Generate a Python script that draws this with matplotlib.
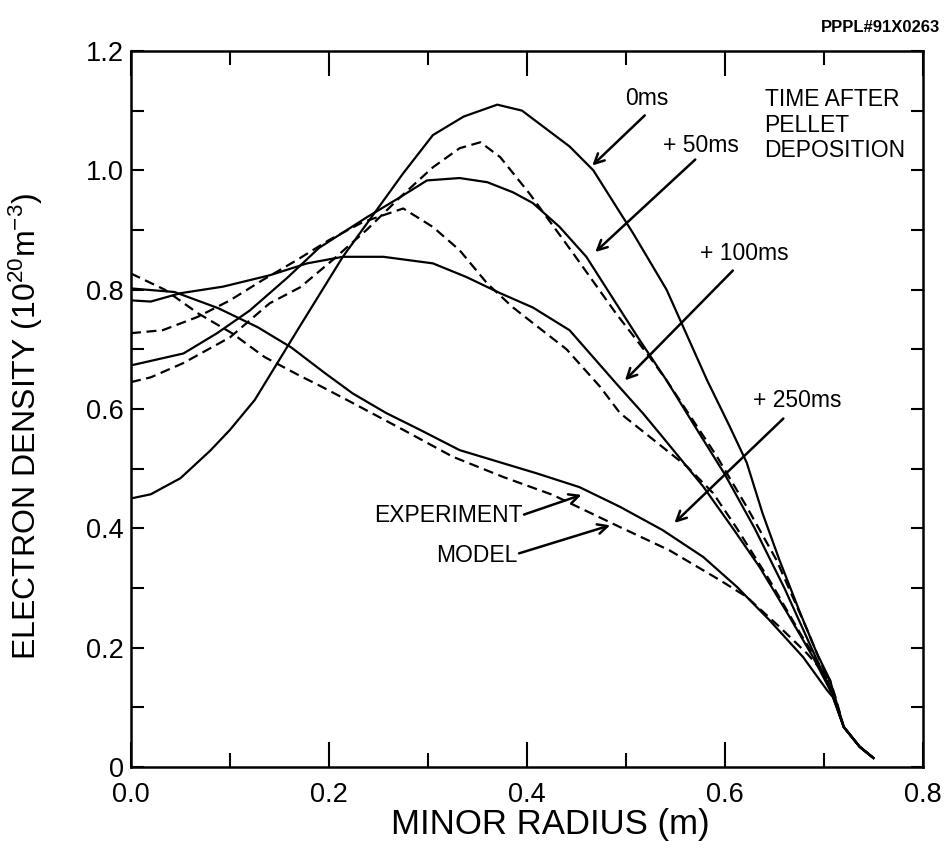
import matplotlib
matplotlib.use("Agg")
import matplotlib.pyplot as plt
from matplotlib.ticker import MultipleLocator, FixedLocator

plt.rcParams["font.family"] = ["Liberation Sans", "DejaVu Sans"]
plt.rcParams["mathtext.fontset"] = "custom"
plt.rcParams["mathtext.rm"] = "Liberation Sans"
plt.rcParams["mathtext.it"] = "Liberation Sans:italic"

# experiment (solid) and model (dashed) density profiles
exp_0_x = [0.0, 0.02, 0.05, 0.08, 0.10, 0.125, 0.17, 0.214, 0.248, 0.275, 0.305, 0.336, 0.37,
           0.395, 0.443, 0.467, 0.507, 0.541, 0.582, 0.605, 0.622, 0.638, 0.655, 0.676, 0.693,
           0.706, 0.72, 0.736, 0.75]
exp_0_y = [0.45, 0.457, 0.484, 0.53, 0.565, 0.615, 0.737, 0.855, 0.933, 0.995, 1.059, 1.09, 1.11,
           1.10, 1.04, 1.00, 0.895, 0.80, 0.648, 0.57, 0.51, 0.425, 0.347, 0.258, 0.19,
           0.146, 0.067, 0.034, 0.015]

exp_50_x = [0.0, 0.053, 0.087, 0.12, 0.158, 0.19, 0.238, 0.272, 0.299, 0.332, 0.36, 0.386, 0.406,
            0.433, 0.46, 0.49, 0.514, 0.541, 0.57, 0.60, 0.63, 0.66, 0.69, 0.709, 0.72, 0.736, 0.75]
exp_50_y = [0.673, 0.693, 0.727, 0.765, 0.82, 0.87, 0.921, 0.955, 0.983, 0.987, 0.98, 0.963, 0.945,
            0.905, 0.855, 0.777, 0.715, 0.648, 0.57, 0.49, 0.40, 0.30, 0.19, 0.12, 0.067, 0.034, 0.015]

model_50_x = [0.0, 0.02, 0.053, 0.10, 0.14, 0.171, 0.204, 0.238, 0.272, 0.305, 0.332, 0.353, 0.373,
              0.403, 0.447, 0.49, 0.524, 0.541, 0.592, 0.622, 0.652, 0.683, 0.703, 0.709, 0.72,
              0.736, 0.75]
model_50_y = [0.645, 0.653, 0.677, 0.72, 0.777, 0.804, 0.85, 0.90, 0.955, 1.005, 1.037, 1.047, 1.022,
              0.96, 0.86, 0.76, 0.687, 0.648, 0.52, 0.436, 0.347, 0.23, 0.15, 0.12, 0.067,
              0.034, 0.015]

exp_100_x = [0.0, 0.02, 0.05, 0.093, 0.14, 0.178, 0.214, 0.255, 0.305, 0.339, 0.373, 0.406, 0.443,
             0.49, 0.517, 0.537, 0.578, 0.608, 0.635, 0.663, 0.689, 0.709, 0.72, 0.736, 0.75]
exp_100_y = [0.782, 0.78, 0.794, 0.805, 0.824, 0.844, 0.855, 0.855, 0.844, 0.821, 0.794, 0.77, 0.732,
             0.643, 0.593, 0.553, 0.47, 0.40, 0.335, 0.258, 0.184, 0.12, 0.067, 0.034, 0.015]

model_100_x = [0.0, 0.032, 0.067, 0.10, 0.133, 0.168, 0.2, 0.234, 0.275, 0.305, 0.332, 0.36, 0.386,
               0.406, 0.44, 0.474, 0.494, 0.528, 0.562, 0.588, 0.612, 0.645, 0.676, 0.699, 0.709,
               0.72, 0.736, 0.75]
model_100_y = [0.727, 0.732, 0.754, 0.782, 0.816, 0.85, 0.883, 0.913, 0.936, 0.905, 0.866, 0.81, 0.77,
               0.744, 0.70, 0.637, 0.593, 0.548, 0.503, 0.459, 0.40, 0.313, 0.224, 0.162, 0.12,
               0.067, 0.034, 0.015]

exp_250_x = [0.0, 0.044, 0.088, 0.128, 0.162, 0.196, 0.224, 0.258, 0.292, 0.332, 0.376, 0.41, 0.453,
             0.494, 0.537, 0.578, 0.612, 0.645, 0.679, 0.703, 0.709, 0.72, 0.736, 0.75]
exp_250_y = [0.802, 0.796, 0.769, 0.737, 0.703, 0.66, 0.626, 0.593, 0.565, 0.531, 0.509, 0.492, 0.469,
             0.436, 0.397, 0.352, 0.302, 0.246, 0.184, 0.129, 0.117, 0.067, 0.034, 0.015]

model_250_x = [0.0, 0.034, 0.068, 0.102, 0.135, 0.169, 0.193, 0.224, 0.275, 0.325, 0.376, 0.426,
               0.494, 0.544, 0.595, 0.622, 0.655, 0.683, 0.706, 0.712, 0.72, 0.736, 0.75]
model_250_y = [0.827, 0.80, 0.76, 0.727, 0.687, 0.657, 0.637, 0.61, 0.565, 0.52, 0.486, 0.456,
               0.402, 0.363, 0.313, 0.285, 0.235, 0.19, 0.146, 0.115, 0.067, 0.034, 0.015]

x_ticks = [0.0, 0.2, 0.4, 0.6, 0.8]
x_tick_labels = ["0.0", "0.2", "0.4", "0.6", "0.8"]
y_ticks = [0.0, 0.2, 0.4, 0.6, 0.8, 1.0, 1.2]
y_tick_labels = ["0", "0.2", "0.4", "0.6", "0.8", "1.0", "1.2"]

fig = plt.figure(figsize=(9.47, 8.52), dpi=100)
ax = fig.add_axes([0.1383, 0.0998, 0.8363, 0.8404])

lw = 1.6
dash = (4.5, 2.5)
for xs, ys in [(exp_0_x, exp_0_y), (exp_50_x, exp_50_y), (exp_100_x, exp_100_y), (exp_250_x, exp_250_y)]:
    ax.plot(xs, ys, color="black", lw=lw)
for xs, ys in [(model_50_x, model_50_y), (model_100_x, model_100_y), (model_250_x, model_250_y)]:
    ax.plot(xs, ys, color="black", lw=lw, dashes=dash)

ax.set_xlim(0, 0.8)
ax.set_ylim(0, 1.2)
ax.xaxis.set_major_locator(FixedLocator(x_ticks))
ax.set_xticklabels(x_tick_labels)
ax.yaxis.set_major_locator(FixedLocator(y_ticks))
ax.set_yticklabels(y_tick_labels)
ax.xaxis.set_minor_locator(MultipleLocator(0.1))
ax.yaxis.set_minor_locator(MultipleLocator(0.1))
ax.tick_params(which="both", direction="in", top=True, right=True, width=1.5, labelsize=19.5)
ax.tick_params(axis="x", which="major", length=18, pad=11)
ax.tick_params(axis="x", which="minor", length=10)
ax.tick_params(axis="y", which="both", length=9, pad=5)
for s in ax.spines.values():
    s.set_linewidth(1.8)

ax.set_xlabel("MINOR RADIUS (m)", fontsize=25)
ax.xaxis.set_label_coords(0.53, -0.058)
ax.set_ylabel(r"ELECTRON DENSITY (10$^{20}$m$^{-3}$)", fontsize=23)
ax.yaxis.set_label_coords(-0.108, 0.475)

fs = 16.5
arrow = dict(arrowstyle="->,head_length=0.7,head_width=0.35", lw=1.8, color="black",
             shrinkA=0, shrinkB=0)

ax.text(0.521, 1.121, "0ms", fontsize=fs, ha="center", va="center")
ax.annotate("", xy=(0.466, 1.008), xytext=(0.519, 1.092), arrowprops=arrow)
ax.text(0.576, 1.042, "+ 50ms", fontsize=fs, ha="center", va="center")
ax.annotate("", xy=(0.469, 0.863), xytext=(0.570, 1.018), arrowprops=arrow)
ax.text(0.620, 0.861, "+ 100ms", fontsize=fs, ha="center", va="center")
ax.annotate("", xy=(0.499, 0.648), xytext=(0.608, 0.832), arrowprops=arrow)
ax.text(0.673, 0.615, "+ 250ms", fontsize=fs, ha="center", va="center")
ax.annotate("", xy=(0.549, 0.409), xytext=(0.659, 0.584), arrowprops=arrow)

ax.text(0.640, 1.138, "TIME AFTER\nPELLET\nDEPOSITION", fontsize=fs, ha="left", va="top",
        linespacing=1.15)

ax.text(0.396, 0.421, "EXPERIMENT", fontsize=fs, ha="right", va="center")
ax.annotate("", xy=(0.455, 0.456), xytext=(0.397, 0.423), arrowprops=arrow)
ax.text(0.390, 0.355, "MODEL", fontsize=fs, ha="right", va="center")
ax.annotate("", xy=(0.484, 0.405), xytext=(0.392, 0.358), arrowprops=arrow)

fig.text(0.993, 0.968, "PPPL#91X0263", fontsize=12, fontweight="bold", ha="right", va="center")

fig.savefig("out.png", dpi=100)
